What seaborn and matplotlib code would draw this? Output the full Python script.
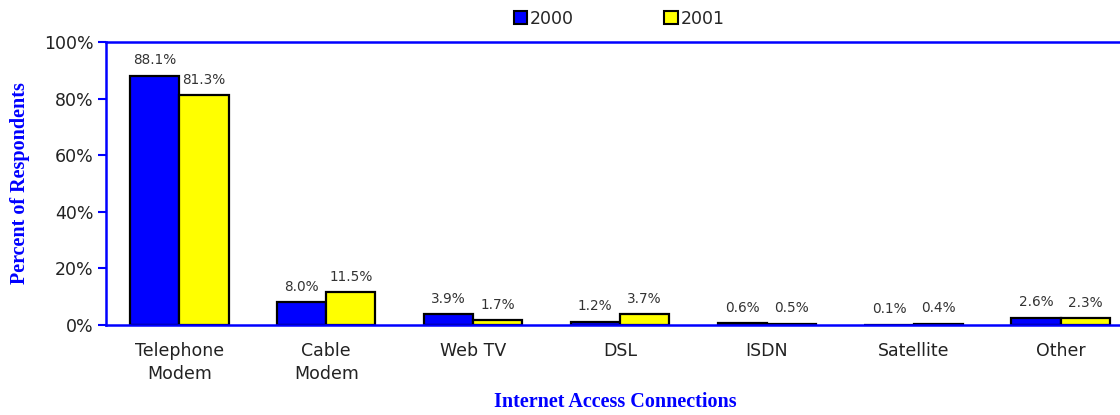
import pandas as pd
import matplotlib.pyplot as plt
import seaborn as sns
from matplotlib.patches import Patch

categories = ["Telephone\nModem", "Cable\nModem", "Web TV", "DSL", "ISDN", "Satellite", "Other"]
values_2000 = [88.1, 8.0, 3.9, 1.2, 0.6, 0.1, 2.6]
values_2001 = [81.3, 11.5, 1.7, 3.7, 0.5, 0.4, 2.3]
years = ["2000", "2001"]
colors = ["#0000FF", "#FFFF00"]

df = pd.DataFrame({
    "category": categories * 2,
    "value": values_2000 + values_2001,
    "year": [years[0]] * len(categories) + [years[1]] * len(categories),
})

sns.set_style("white")
plt.rcParams["font.family"] = ["DejaVu Sans"]

fig = plt.figure(figsize=(11.2, 4.15), dpi=100)
ax = fig.add_axes([0.0946, 0.217, 0.91, 0.682])

sns.barplot(data=df, x="category", y="value", hue="year", order=categories,
            hue_order=years, palette=colors, width=0.67, gap=0,
            edgecolor="black", linewidth=1.6, saturation=1, legend=False, ax=ax)

for cont in ax.containers:
    ax.bar_label(cont, labels=[f"{v:.1f}%" for v in cont.datavalues],
                 padding=6, fontsize=9.8, color="#333333")

ax.set_ylim(0, 100)
ax.set_xlim(-0.5, 6.44)
ax.set_yticks(range(0, 101, 20))
ax.set_yticklabels([f"{t}%" for t in range(0, 101, 20)], fontsize=12.5, color="#222222")
ax.tick_params(axis="y", direction="out", length=6, width=1.5, color="blue", left=True, pad=3)
ax.tick_params(axis="x", length=0, labelsize=12.5, labelcolor="#222222", pad=12)
for lbl in ax.get_xticklabels():
    lbl.set_linespacing(1.35)

for side in ["left", "top", "bottom"]:
    ax.spines[side].set_color("blue")
    ax.spines[side].set_linewidth(1.8)
ax.spines["right"].set_visible(False)

ax.set_xlabel("Internet Access Connections", family="Liberation Serif", fontweight="bold",
              fontsize=14.5, color="blue", labelpad=7)
ax.set_ylabel("Percent of Respondents", family="Liberation Serif", fontweight="bold",
              fontsize=14.5, color="blue")
ax.yaxis.set_label_coords(-0.075, 0.5)

handles = [Patch(facecolor=c, edgecolor="black", linewidth=1.5) for c in colors]
fig.legend(handles, years, loc="center", bbox_to_anchor=(0.553, 0.955), ncol=2,
           frameon=False, fontsize=12.5, handlelength=0.75, handleheight=0.75,
           handletextpad=0.2, columnspacing=5.2)

fig.savefig("out.png", dpi=100)
